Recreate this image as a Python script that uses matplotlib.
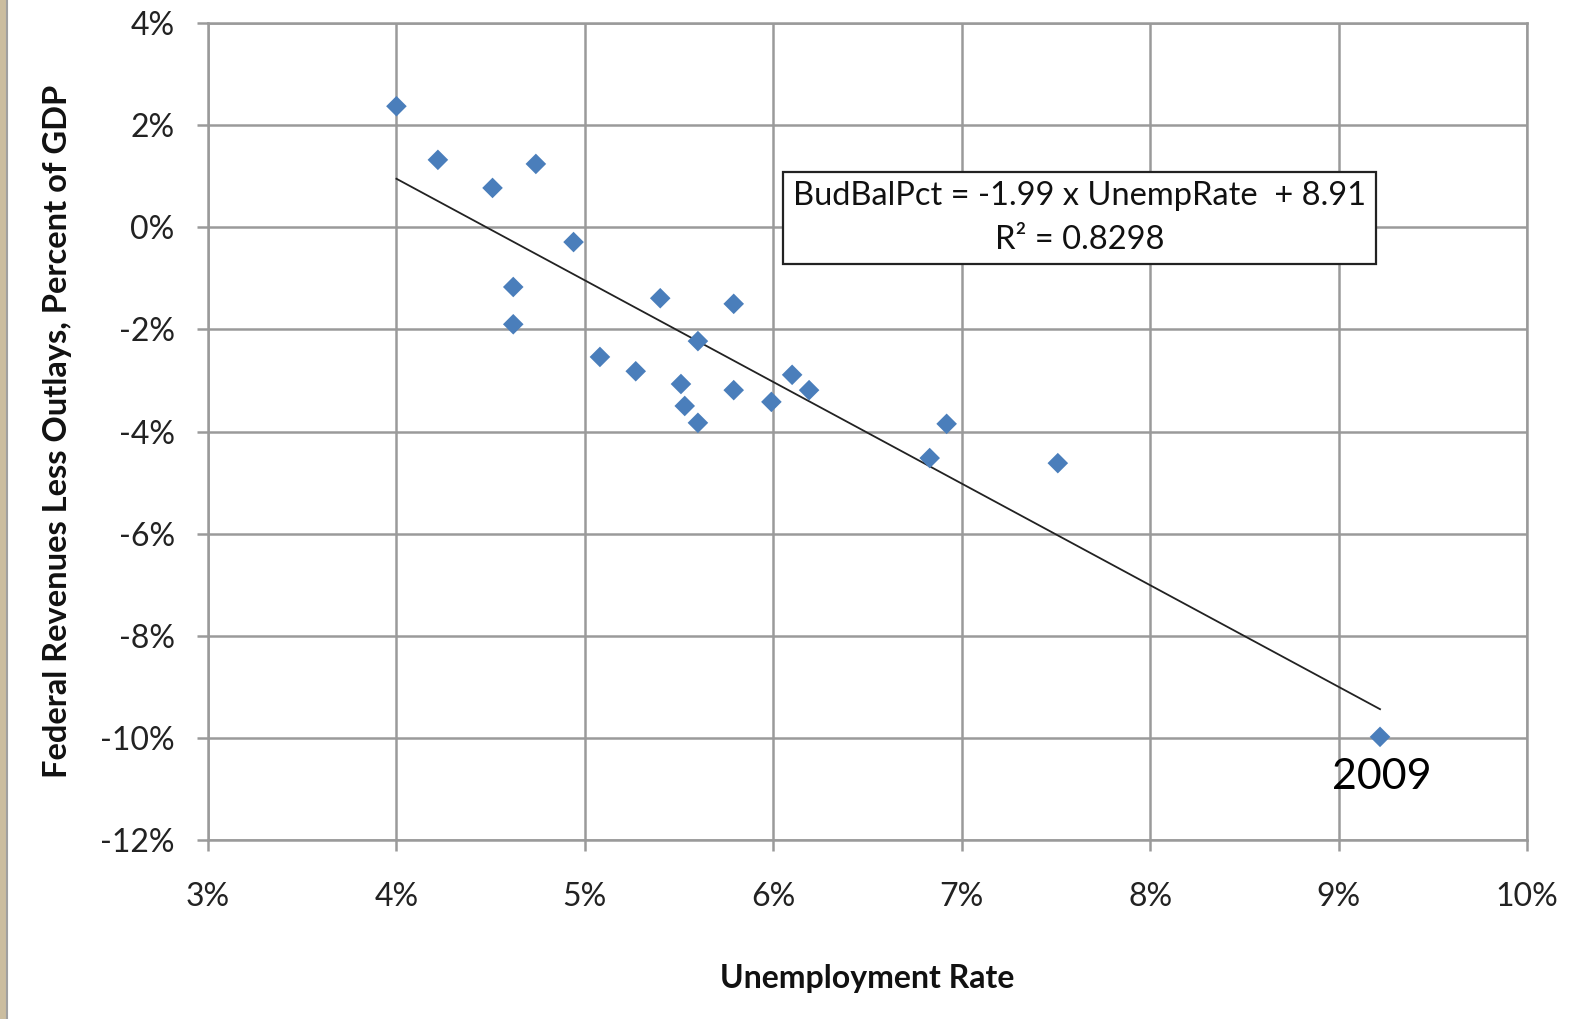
import matplotlib
matplotlib.use("Agg")
import matplotlib.pyplot as plt
from matplotlib.patches import Rectangle
from matplotlib.lines import Line2D
import numpy as np

plt.rcParams['font.family'] = ['Lato', 'DejaVu Sans']

# Data (percent)
unemp = [4.00, 4.22, 4.51, 4.74, 4.94, 4.62, 4.62, 5.08, 5.27, 5.40, 5.51, 5.53,
         5.60, 5.60, 5.79, 5.79, 5.99, 6.10, 6.19, 6.92, 6.83, 7.51, 9.22]
budbal = [2.37, 1.32, 0.77, 1.24, -0.29, -1.17, -1.90, -2.54, -2.82, -1.39, -3.07, -3.50,
          -2.23, -3.83, -1.50, -3.19, -3.42, -2.89, -3.19, -3.85, -4.52, -4.62, -9.98]
slope = -1.99
intercept = 8.91
r2 = 0.8298
x_ticks = [3, 4, 5, 6, 7, 8, 9, 10]
y_ticks = [4, 2, 0, -2, -4, -6, -8, -10, -12]
annot_label = "2009"

fig = plt.figure(figsize=(15.87, 10.19), dpi=100)
ax = fig.add_axes([208/1587, 1-840/1019, (1527-208)/1587, (840-23)/1019])

grid_c = '#9a9a9a'
ax.set_xlim(3, 10)
ax.set_ylim(-12, 4)
ax.set_xticks(x_ticks)
ax.set_yticks(y_ticks)
ax.set_xticklabels([f"{t}%" for t in x_ticks])
ax.set_yticklabels([f"{t}%" for t in y_ticks])
ax.grid(True, color=grid_c, linewidth=1.8)
ax.set_axisbelow(True)
for s in ax.spines.values():
    s.set_color(grid_c)
    s.set_linewidth(1.8)
ax.tick_params(axis='both', direction='out', length=8, width=1.8, color=grid_c,
               labelsize=23, labelcolor='#222222')
ax.tick_params(axis='x', pad=22)
ax.tick_params(axis='y', pad=16)

# trend line
xs = np.array([min(unemp), max(unemp)])
ax.plot(xs, slope*xs + intercept, color='#222222', linewidth=1.3, zorder=2)

ax.scatter(unemp, budbal, marker='D', s=110, color='#4a7ebb', edgecolors='none', zorder=3)

ax.text(9.23, -10.40, annot_label, fontsize=31, ha='center', va='top', color='black')

eq = f"BudBalPct = {slope:.2f} x UnempRate  + {intercept:.2f}\nR² = {r2:.4f}"
ax.text(7.625, 0.18, eq, fontsize=23.5, ha='center', va='center', color='#111111',
        linespacing=1.55, multialignment='center',
        bbox=dict(boxstyle='square,pad=0.3', facecolor='white', edgecolor='#222222', linewidth=1.6))

ax.set_xlabel("Unemployment Rate", fontsize=23, fontweight='bold', labelpad=38, color='#111111')
ax.set_ylabel("Federal Revenues Less Outlays, Percent of GDP", fontsize=23.5, fontweight='bold',
              labelpad=20, color='#111111')

# left decorative strip
fig.patches.append(Rectangle((0, 0), 6/1587, 1, transform=fig.transFigure,
                             facecolor='#cbbd9f', edgecolor='none'))
fig.lines.append(Line2D([7/1587, 7/1587], [0, 1], transform=fig.transFigure,
                        color='#a0a0a0', linewidth=1.5))

fig.savefig("out.png", dpi=100)
